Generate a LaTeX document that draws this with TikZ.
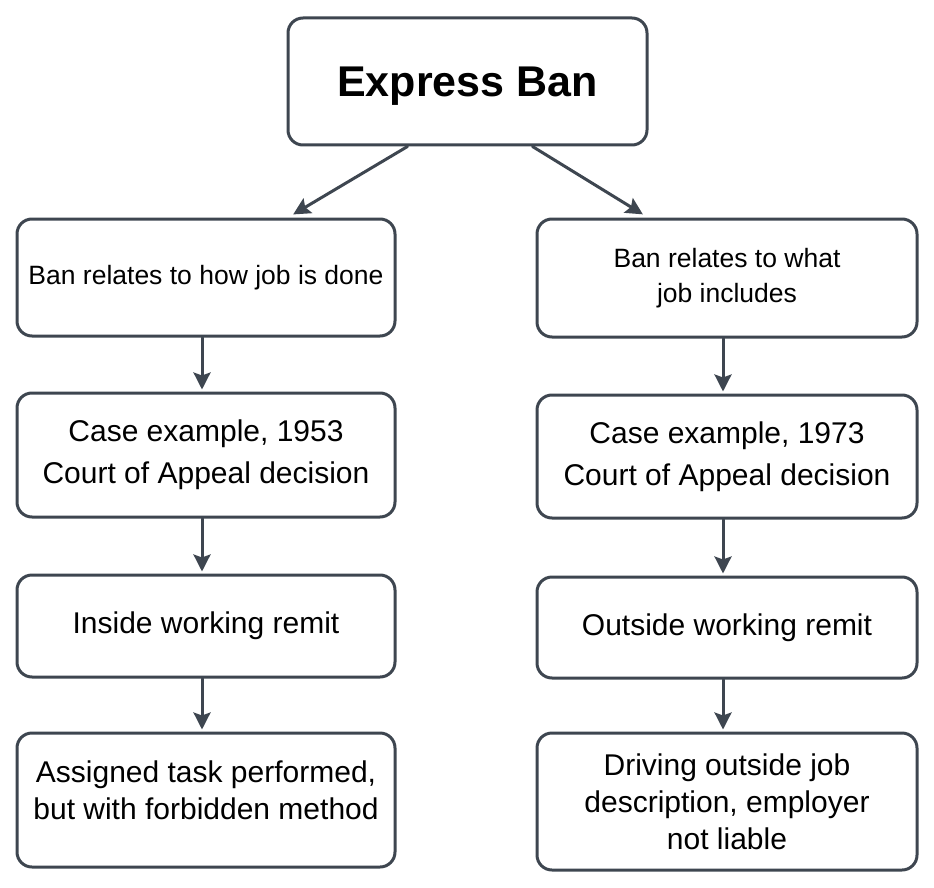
\documentclass[tikz,border=0pt]{standalone}
\usepackage{fontspec}
\setmainfont{Liberation Sans}
\usetikzlibrary{arrows.meta}
\definecolor{slate}{HTML}{3E4650}
\tikzset{
	box/.style={draw=slate, line width=3pt, rounded corners=15pt, fill=white, align=center, inner sep=0pt, minimum width=378pt},
	flow/.style={draw=slate, line width=3pt, -{Stealth[length=17pt, width=17pt, inset=3pt]}, shorten >=2pt},
}
\newcommand{\titlefont}{\fontsize{43}{50}\selectfont\bfseries}
\newcommand{\bodyfont}{\fontsize{30}{37}\selectfont}
\newcommand{\casefont}{\fontsize{30}{42}\selectfont}
\newcommand{\smallbody}{\fontsize{26.5}{35}\selectfont}

\begin{document}
\begin{tikzpicture}[x=1pt, y=1pt, line join=round, line cap=round]
	\useasboundingbox (0, 0) rectangle (934, -888);
	\def\lx{206}	\def\rx{727}
	\node[box, minimum width=359pt, minimum height=127pt, font=\titlefont, text depth=0pt] (ban) at (467.5, -81.5) {Express Ban};
	% left branch
	\node[box, minimum height=117pt, font=\smallbody] (how) at (\lx, -277.5) {Ban relates to how job is done};
	\node[box, minimum height=124pt, font=\casefont] (case53) at (\lx, -455) {Case example, 1953\\Court of Appeal decision};
	\node[box, minimum height=102pt, font=\bodyfont] (inside) at (\lx, -626) {Inside working remit};
	\node[box, minimum height=134pt, font=\bodyfont, text depth=20pt] (method) at (\lx, -800) {Assigned task performed,\\but with forbidden method};
	% right branch
	\node[box, minimum width=380pt, minimum height=118pt, font=\smallbody] (what) at (\rx, -278) {Ban relates to what\\job includes};
	\node[box, minimum width=380pt, minimum height=123pt, font=\casefont] (case73) at (\rx, -456.5) {Case example, 1973\\Court of Appeal decision};
	\node[box, minimum width=380pt, minimum height=101pt, font=\bodyfont] (outside) at (\rx, -627.5) {Outside working remit};
	\node[box, minimum width=380pt, minimum height=137pt, font=\bodyfont] (driving) at (\rx, -801.5) {Driving outside job\\description, employer\\not liable};
	% arrows
	\draw[flow, shorten >=6pt] ([xshift=-60pt]ban.south) -- ([xshift=82pt]how.north);
	\draw[flow, shorten >=6pt] ([xshift=65pt]ban.south) -- ([xshift=-79pt]what.north);
	\foreach \a/\b in {how/case53, case53/inside, inside/method}
		\draw[flow] ([xshift=-4pt]\a.south) -- ([xshift=-4pt]\b.north);
	\foreach \a/\b in {what/case73, case73/outside, outside/driving}
		\draw[flow] ([xshift=-4pt]\a.south) -- ([xshift=-4pt]\b.north);
\end{tikzpicture}
\end{document}
